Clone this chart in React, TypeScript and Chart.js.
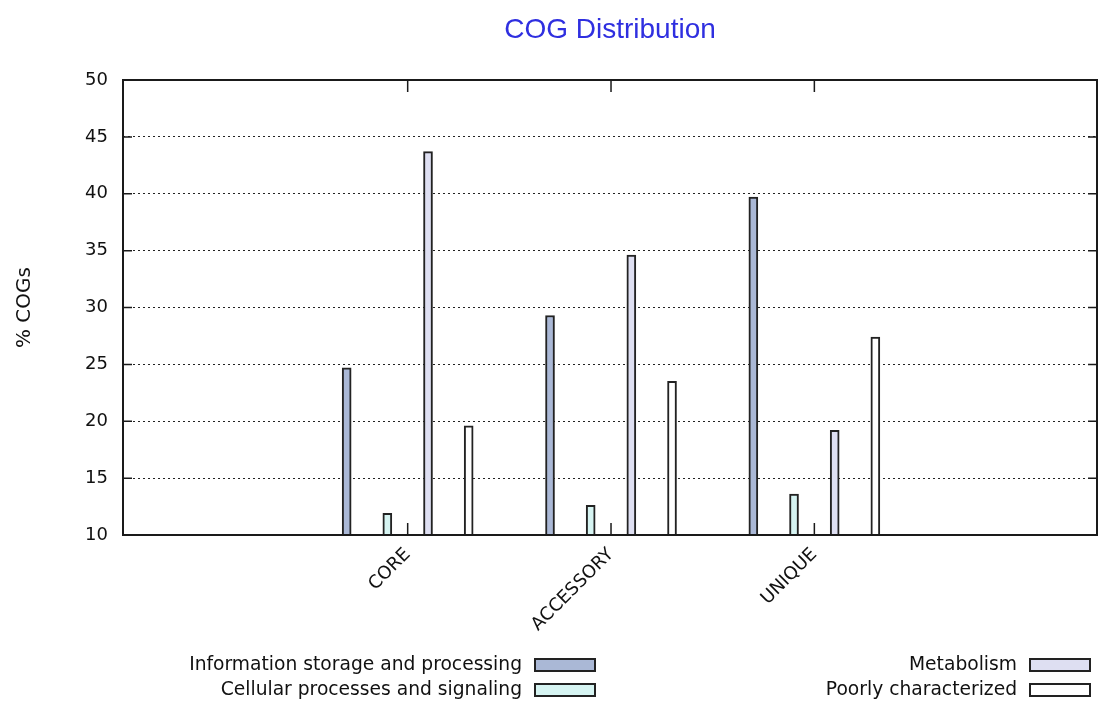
import React, { useEffect, useRef } from "react";
import { Chart, registerables } from "chart.js";

Chart.register(...registerables);

// COG class distribution per gene set (% of COGs)
const categories = ["CORE", "ACCESSORY", "UNIQUE"];
const seriesNames = [
  "Information storage and processing",
  "Cellular processes and signaling",
  "Metabolism",
  "Poorly characterized",
];
const infoStorage = [24.7, 29.3, 39.7];
const cellularProcesses = [11.9, 12.6, 13.6];
const metabolism = [43.7, 34.6, 19.2];
const poorlyCharacterized = [19.6, 23.5, 27.4];
const yTicks = [10, 15, 20, 25, 30, 35, 40, 45, 50];

const fills = ["#aab8d6", "#d6f4f2", "#dedff2", "#ffffff"];
const offsets = [-0.3, -0.1, 0.1, 0.3];
const FONT = "'DejaVu Sans', sans-serif";

const frameAndTicks = {
  id: "frameAndTicks",
  afterDatasetsDraw(chart: any) {
    const { ctx, chartArea: a, scales } = chart;
    ctx.save();
    ctx.strokeStyle = "#1a1a1a";
    ctx.lineWidth = 1.5;
    for (const t of scales.y.ticks) {
      const py = scales.y.getPixelForValue(t.value);
      ctx.beginPath();
      ctx.moveTo(a.left, py);
      ctx.lineTo(a.left + 9, py);
      ctx.moveTo(a.right - 9, py);
      ctx.lineTo(a.right, py);
      ctx.stroke();
    }
    for (const t of scales.x.ticks) {
      const px = scales.x.getPixelForValue(t.value);
      ctx.beginPath();
      ctx.moveTo(px, a.bottom);
      ctx.lineTo(px, a.bottom - 12);
      ctx.moveTo(px, a.top);
      ctx.lineTo(px, a.top + 12);
      ctx.stroke();
    }
    ctx.lineWidth = 2;
    ctx.strokeRect(a.left, a.top, a.right - a.left, a.bottom - a.top);
    ctx.restore();
  },
};

const titleAndLegend = {
  id: "titleAndLegend",
  afterDraw(chart: any) {
    const { ctx, chartArea: a } = chart;
    ctx.save();
    ctx.fillStyle = "#2f2fe0";
    ctx.font = "28px 'Liberation Sans', Arial, sans-serif";
    ctx.textAlign = "center";
    ctx.textBaseline = "alphabetic";
    ctx.fillText("COG Distribution", (a.left + a.right) / 2, 38);

    // two-column key under the plot: [label  swatch]
    const slots = [
      { ds: 0, textRight: 522, box: 535, cy: 665 },
      { ds: 2, textRight: 1017, box: 1030, cy: 665 },
      { ds: 1, textRight: 522, box: 535, cy: 690 },
      { ds: 3, textRight: 1017, box: 1030, cy: 690 },
    ];
    ctx.font = `18.7px ${FONT}`;
    ctx.textAlign = "right";
    ctx.textBaseline = "middle";
    for (const s of slots) {
      const d = chart.data.datasets[s.ds];
      ctx.fillStyle = "#111";
      ctx.fillText(d.label, s.textRight, s.cy);
      ctx.fillStyle = d.backgroundColor;
      ctx.fillRect(s.box, s.cy - 6, 60, 12);
      ctx.strokeStyle = "#222";
      ctx.lineWidth = 2;
      ctx.strokeRect(s.box, s.cy - 6, 60, 12);
    }
    ctx.restore();
  },
};

export default function App() {
  const ref = useRef<HTMLCanvasElement>(null);

  useEffect(() => {
    const all = [infoStorage, cellularProcesses, metabolism, poorlyCharacterized];
    const chart = new Chart(ref.current!, {
      type: "bar",
      data: {
        datasets: all.map((vals, k) => ({
          label: seriesNames[k],
          data: vals.map((v, i) => ({ x: i + offsets[k], y: v })),
          backgroundColor: fills[k],
          borderColor: "#222",
          borderWidth: 2,
          barThickness: 9,
          grouped: false,
        })),
      },
      options: {
        animation: false,
        responsive: false,
        layout: { padding: { top: 80, right: 3, left: 0, bottom: 0 } },
        plugins: {
          legend: { display: false },
          title: { display: false },
          tooltip: { enabled: false },
        },
        scales: {
          x: {
            type: "linear",
            offset: false,
            min: -1.4,
            max: 3.39,
            afterBuildTicks: (s: any) => {
              s.ticks = categories.map((_, i) => ({ value: i }));
            },
            afterFit: (s: any) => {
              s.height = 171;
            },
            grid: { display: false, drawTicks: false, offset: false },
            border: { display: false },
            ticks: {
              autoSkip: false,
              minRotation: 45,
              maxRotation: 45,
              padding: 9,
              color: "#111",
              font: { family: FONT, size: 18 },
              callback: (v: any) => categories[v] ?? "",
            },
          },
          y: {
            min: 10,
            max: 50,
            afterBuildTicks: (s: any) => {
              s.ticks = yTicks.map((v) => ({ value: v }));
            },
            afterFit: (s: any) => {
              s.width = 123;
            },
            grid: {
              drawTicks: false,
              color: "#222",
              lineWidth: 1,
            },
            border: { display: false, dash: [2, 3] },
            ticks: {
              padding: 15,
              color: "#111",
              font: { family: FONT, size: 18 },
            },
            title: {
              display: true,
              text: "% COGs",
              color: "#111",
              font: { family: FONT, size: 20 },
              padding: { top: 13, bottom: 0 },
            },
          },
        },
      },
      plugins: [frameAndTicks, titleAndLegend],
    });
    return () => chart.destroy();
  }, []);

  return (
    <div style={{ position: "fixed", left: 0, top: 0, width: 1100, height: 706, background: "#fff" }}>
      <canvas ref={ref} width={1100} height={706} style={{ display: "block" }} />
    </div>
  );
}
